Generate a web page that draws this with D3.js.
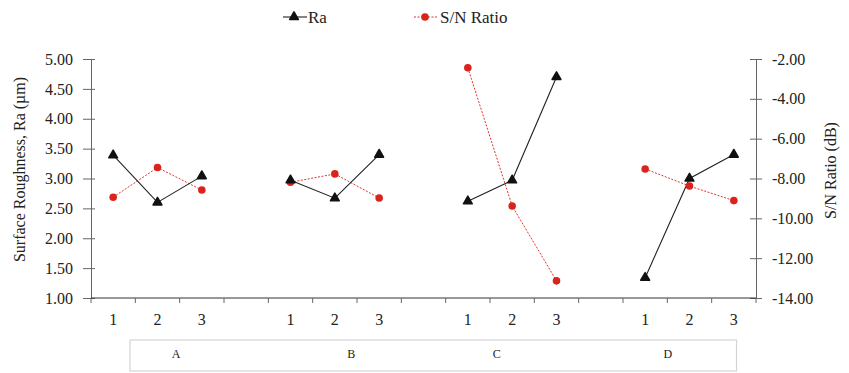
<!DOCTYPE html>
<html>
<head>
<meta charset="utf-8">
<script src="https://cdn.jsdelivr.net/npm/d3@7"></script>
<style>
  body { margin: 0; background: #fff; }
  svg text { font-family: "Liberation Serif", "Times New Roman", serif; fill: #222; }
</style>
</head>
<body>
<div id="chart"></div>
<script>
// factors and levels along the x axis
var factors = ["A", "B", "C", "D"];
var levels = ["1", "2", "3"];

// mean Ra (um) and S/N ratio (dB) for each factor level, in order A1..D3
var raValues = [3.39, 2.60, 3.04, 2.97, 2.67, 3.40, 2.62, 2.97, 4.70, 1.34, 3.00, 3.40];
var snValues = [-8.94, -7.45, -8.58, -8.19, -7.77, -8.98, -2.44, -9.38, -13.14, -7.52, -8.38, -9.11];

// tick labels
var raTicks = [1.00, 1.50, 2.00, 2.50, 3.00, 3.50, 4.00, 4.50, 5.00];
var snTicks = [-14, -12, -10, -8, -6, -4, -2];

var width = 849, height = 373;
var plotLeft = 91, plotRight = 756, plotTop = 59, plotBottom = 298;

var svg = d3.select("#chart").append("svg")
    .attr("width", width)
    .attr("height", height);

// band keys: three levels per factor with an empty slot between factors
var keys = [];
factors.forEach(function(f, i) {
    levels.forEach(function(l) { keys.push(f + l); });
    if (i < factors.length - 1) keys.push("gap" + i);
});

var x = d3.scaleBand().domain(keys).range([plotLeft, plotRight]).padding(0);
var yRa = d3.scaleLinear().domain([1, 5]).range([plotBottom, plotTop]);
var ySn = d3.scaleLinear().domain([-14, -2]).range([plotBottom, plotTop]);

var axisColor = "#666";
// plain hyphen minus like the original
var fmt = function(d) { return d3.format(".2f")(d).replace("\u2212", "-"); };

// left axis
var gl = svg.append("g").attr("transform", "translate(" + plotLeft + ",0)")
    .call(d3.axisLeft(yRa).tickValues(raTicks).tickFormat(fmt)
        .tickSizeInner(6).tickSizeOuter(0).tickPadding(12));
gl.select(".domain").attr("stroke", axisColor);
gl.selectAll(".tick line").attr("stroke", axisColor).attr("x2", -8).attr("x1", 4);
gl.selectAll(".tick text").style("font-size", "16px").attr("font-family", null);

// right axis
var gr = svg.append("g").attr("transform", "translate(" + plotRight + ",0)")
    .call(d3.axisRight(ySn).tickValues(snTicks).tickFormat(fmt)
        .tickSizeInner(6).tickSizeOuter(0).tickPadding(10));
gr.select(".domain").attr("stroke", axisColor);
gr.selectAll(".tick line").attr("stroke", axisColor).attr("x1", -6).attr("x2", 6);
gr.selectAll(".tick text").style("font-size", "16px").attr("font-family", null);

// bottom axis line with ticks at band boundaries
svg.append("line")
    .attr("x1", plotLeft).attr("x2", plotRight)
    .attr("y1", plotBottom).attr("y2", plotBottom)
    .attr("stroke", "#333");

var bounds = keys.map(function(k) { return x(k); }).concat([plotRight]);
svg.selectAll(".xtick").data(bounds).enter().append("line")
    .attr("class", "xtick")
    .attr("x1", function(d) { return d; }).attr("x2", function(d) { return d; })
    .attr("y1", plotBottom).attr("y2", plotBottom + 5)
    .attr("stroke", axisColor);

// level labels
var points = [];
factors.forEach(function(f, i) {
    levels.forEach(function(l, j) {
        points.push({ factor: f, level: l, key: f + l, ra: raValues[i * 3 + j], sn: snValues[i * 3 + j] });
    });
});

svg.selectAll(".lvl").data(points).enter().append("text")
    .attr("class", "lvl")
    .attr("x", function(d) { return x(d.key) + x.bandwidth() / 2; })
    .attr("y", plotBottom + 27)
    .attr("text-anchor", "middle")
    .style("font-size", "16px")
    .text(function(d) { return d.level; });

// factor group box
var bw = x.bandwidth();
var boxL = x("A1") + bw * 0.88, boxR = x("D3") + bw * 0.56;
svg.append("rect")
    .attr("x", boxL)
    .attr("y", 340)
    .attr("width", boxR - boxL)
    .attr("height", 31)
    .attr("fill", "none")
    .attr("stroke", "#d4d4d4")
    .attr("stroke-width", 1.2);

// factor labels (offset inside group as in the original)
var groupOffset = [1.92, 5.87, 9.15, 13.01];
svg.selectAll(".grp").data(factors).enter().append("text")
    .attr("class", "grp")
    .attr("x", function(d, i) { return plotLeft + groupOffset[i] * bw; })
    .attr("y", 358)
    .attr("text-anchor", "middle")
    .style("font-size", "12px")
    .text(function(d) { return d; });

// lines per factor
var lineRa = d3.line().x(function(d) { return x(d.key) + bw / 2; }).y(function(d) { return yRa(d.ra); });
var lineSn = d3.line().x(function(d) { return x(d.key) + bw / 2; }).y(function(d) { return ySn(d.sn); });

factors.forEach(function(f) {
    var pts = points.filter(function(p) { return p.factor === f; });
    svg.append("path").datum(pts)
        .attr("d", lineSn)
        .attr("fill", "none")
        .attr("stroke", "#e0332a")
        .attr("stroke-width", 1)
        .attr("stroke-dasharray", "2,1.5");
    svg.append("path").datum(pts)
        .attr("d", lineRa)
        .attr("fill", "none")
        .attr("stroke", "#222")
        .attr("stroke-width", 1.1);
});

var tri = d3.symbol().type(d3.symbolTriangle).size(34);

svg.selectAll(".sn").data(points).enter().append("circle")
    .attr("class", "sn")
    .attr("cx", function(d) { return x(d.key) + bw / 2; })
    .attr("cy", function(d) { return ySn(d.sn); })
    .attr("r", 3.8)
    .attr("fill", "#d9231c");

svg.selectAll(".ra").data(points).enter().append("path")
    .attr("class", "ra")
    .attr("d", tri)
    .attr("transform", function(d) { return "translate(" + (x(d.key) + bw / 2) + "," + yRa(d.ra) + ")"; })
    .attr("fill", "#111")
    .attr("stroke", "#111")
    .attr("stroke-width", 1.5)
    .attr("stroke-linejoin", "round");

// axis titles
svg.append("text")
    .attr("transform", "translate(25," + ((plotTop + plotBottom) / 2 - 9) + ") rotate(-90)")
    .attr("text-anchor", "middle")
    .style("font-size", "16px")
    .text("Surface Roughness, Ra (µm)");

svg.append("text")
    .attr("transform", "translate(836," + ((plotTop + plotBottom) / 2 - 8) + ") rotate(-90)")
    .attr("text-anchor", "middle")
    .style("font-size", "16px")
    .text("S/N Ratio (dB)");

// legend
var lg = svg.append("g").attr("transform", "translate(283,17)");
lg.append("line").attr("x1", 0).attr("x2", 24).attr("stroke", "#222").attr("stroke-width", 1.1);
lg.append("path").attr("d", tri).attr("transform", "translate(11,0)").attr("fill", "#111")
    .attr("stroke", "#111").attr("stroke-width", 1.5).attr("stroke-linejoin", "round");
lg.append("text").attr("x", 25).attr("y", 6).style("font-size", "17px").text("Ra");

lg.append("line").attr("x1", 131).attr("x2", 154).attr("stroke", "#e0332a").attr("stroke-dasharray", "2,1.5");
lg.append("circle").attr("cx", 142).attr("cy", 0).attr("r", 3.8).attr("fill", "#d9231c");
lg.append("text").attr("x", 157).attr("y", 6).style("font-size", "17px").text("S/N Ratio");
</script>
</body>
</html>
